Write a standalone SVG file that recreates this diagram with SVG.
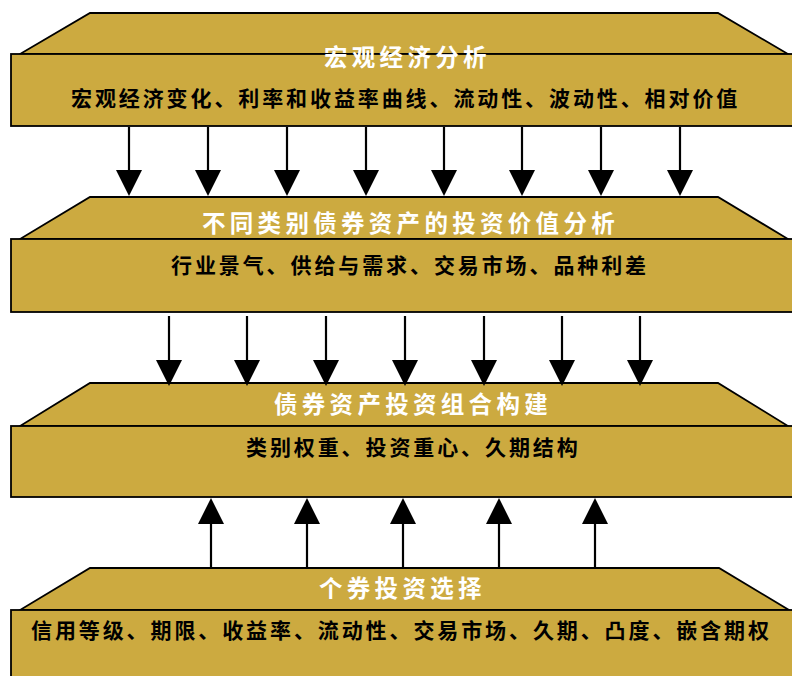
<svg xmlns="http://www.w3.org/2000/svg" width="792" height="676" viewBox="0 0 792 676">
<style>
.fill{fill:#CCAA40;stroke:#000;stroke-width:1.8;stroke-linejoin:miter}
.title{font-family:"Noto Sans CJK SC","Noto Sans CJK TC",sans-serif;font-size:23.5px;fill:#fff;font-weight:bold;letter-spacing:4.3px}
.sub{font-family:"Noto Sans CJK SC","Noto Sans CJK TC",sans-serif;font-size:21px;fill:#000;font-weight:bold;letter-spacing:2.9px}
.conn line{stroke:#000;stroke-width:2.2;marker-end:url(#ah)}
</style>
<defs>
<marker id="ah" markerUnits="userSpaceOnUse" viewBox="0 0 26 26" markerWidth="26" markerHeight="26" refX="22" refY="13" orient="auto">
<path d="M0,0 L26,13 L0,26 Z" fill="#000"/>
</marker>
</defs>
<rect width="792" height="676" fill="#fff"/>
<g id="node1">
<polygon class="fill" points="90,13 718,13 788,54 20,54"/>
<rect class="fill" x="11" y="54" width="800" height="72"/>
<text class="title" x="324" y="66">宏观经济分析</text>
<text class="sub" x="71" y="106">宏观经济变化、利率和收益率曲线、流动性、波动性、相对价值</text>
</g>
<g id="node2">
<polygon class="fill" points="90,197 718,197 788,239 20,239"/>
<rect class="fill" x="11" y="239" width="800" height="73"/>
<text class="title" x="202" y="232">不同类别债券资产的投资价值分析</text>
<text class="sub" x="171" y="273">行业景气、供给与需求、交易市场、品种利差</text>
</g>
<g id="node3">
<polygon class="fill" points="90,383 718,383 788,426 20,426"/>
<rect class="fill" x="11" y="426" width="800" height="71"/>
<text class="title" x="274" y="413">债券资产投资组合构建</text>
<text class="sub" x="246" y="455">类别权重、投资重心、久期结构</text>
</g>
<g id="node4">
<polygon class="fill" points="90,568 719,568 789,610 20,610"/>
<rect class="fill" x="11" y="610" width="800" height="80"/>
<text class="title" x="319" y="597">个券投资选择</text>
<text class="sub" x="31" y="638">信用等级、期限、收益率、流动性、交易市场、久期、凸度、嵌含期权</text>
</g>
<g id="connectors" class="conn">
<line x1="129" y1="127" x2="129" y2="192"/>
<line x1="208" y1="127" x2="208" y2="192"/>
<line x1="287" y1="127" x2="287" y2="192"/>
<line x1="366" y1="127" x2="366" y2="192"/>
<line x1="444" y1="127" x2="444" y2="192"/>
<line x1="522" y1="127" x2="522" y2="192"/>
<line x1="601" y1="127" x2="601" y2="192"/>
<line x1="680" y1="127" x2="680" y2="192"/>
<line x1="169" y1="316" x2="169" y2="382"/>
<line x1="247" y1="316" x2="247" y2="382"/>
<line x1="326" y1="316" x2="326" y2="382"/>
<line x1="405" y1="316" x2="405" y2="382"/>
<line x1="484" y1="316" x2="484" y2="382"/>
<line x1="562" y1="316" x2="562" y2="382"/>
<line x1="640" y1="316" x2="640" y2="382"/>
<line x1="211" y1="568" x2="211" y2="502"/>
<line x1="307" y1="568" x2="307" y2="502"/>
<line x1="403" y1="568" x2="403" y2="502"/>
<line x1="499" y1="568" x2="499" y2="502"/>
<line x1="595" y1="568" x2="595" y2="502"/>
</g>
</svg>
